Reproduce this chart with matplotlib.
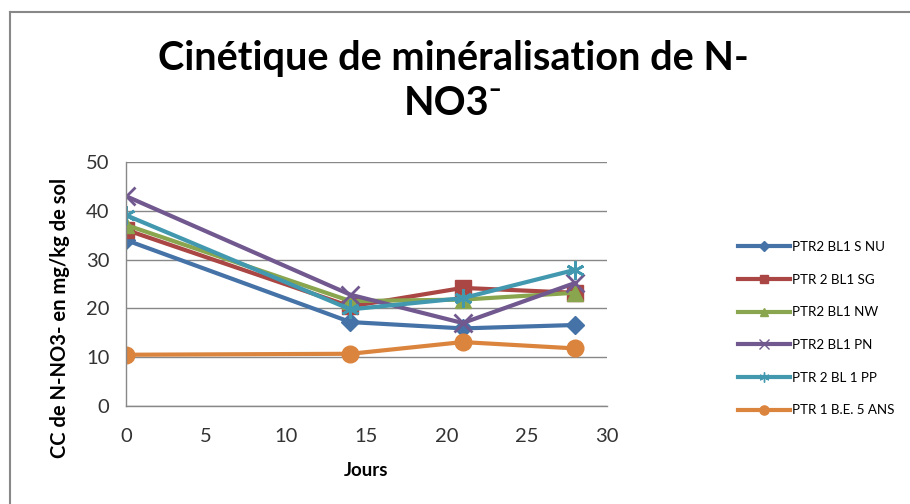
import matplotlib
matplotlib.use("Agg")
import matplotlib.pyplot as plt
from matplotlib.lines import Line2D

# sampling days and N-NO3 concentrations (mg/kg soil)
jours = [0, 14, 21, 28]
series_names = ["PTR2 BL1 S NU", "PTR 2 BL1 SG", "PTR2 BL1 NW",
                "PTR2 BL1 PN", "PTR 2 BL 1 PP", "PTR 1 B.E. 5 ANS"]
s_nu = [34.0, 17.2, 15.9, 16.6]
sg = [36.1, 20.4, 24.2, 23.2]
nw = [37.1, 21.5, 21.8, 23.2]
pn = [43.0, 22.8, 17.0, 25.2]
pp = [39.1, 19.8, 22.1, 27.9]
be5 = [10.5, 10.7, 13.1, 11.8]
xticks = [0, 5, 10, 15, 20, 25, 30]
yticks = [0, 10, 20, 30, 40, 50]

colors = ["#4572A7", "#AA4643", "#89A54E", "#71588F", "#4198AF", "#DB843D"]
markers = ["D", "s", "^", "x", (6, 2, 0), "o"]
msizes = [9, 11, 11, 13, 13, 12]

plt.rcParams["font.family"] = ["Lato", "DejaVu Sans"]
fig = plt.figure(figsize=(9.1, 5.04), dpi=100)
ax = fig.add_axes([126 / 910, 98 / 504, 481 / 910, 244 / 504])

for vals, name, c, m, ms in zip([s_nu, sg, nw, pn, pp, be5], series_names,
                                colors, markers, msizes):
    thin = m in ("x", (6, 2, 0))
    ax.plot(jours, vals, color=c, lw=3, marker=m, ms=ms, mew=2 if thin else 1,
            label=name)

ax.set_xlim(0, 30)
ax.set_ylim(0, 50)
ax.set_xticks(xticks)
ax.set_yticks(yticks)
ax.tick_params(length=0, labelsize=14.5, colors="#333333")
ax.tick_params(axis="x", pad=16)
ax.tick_params(axis="y", pad=12)
ax.yaxis.grid(True, color="#888888", lw=1)
ax.set_axisbelow(True)
for sp in ("top", "right"):
    ax.spines[sp].set_visible(False)
for sp in ("left", "bottom"):
    ax.spines[sp].set_color("#888888")
    ax.spines[sp].set_linewidth(1)
ax.set_xlabel("Jours", fontsize=13.5, fontweight="bold", labelpad=12)
ax.set_ylabel("CC de N-NO3- en mg/kg de sol", fontsize=14.5, fontweight="bold")
ax.yaxis.set_label_coords(-0.117, 0.36)

# two-line title as in the original (text wrapped after "N-")
fig.text(0.498, 1 - 70 / 504, "Cinétique de minéralisation de N-", ha="center", va="baseline",
         fontsize=28.5, fontweight="bold")
fig.text(0.498, 1 - 115 / 504, "NO3⁻", ha="center", va="baseline",
         fontsize=28.5, fontweight="bold")

handles = [Line2D([], [], color=c, lw=3, marker=m, ms=ms * 0.55) for c, m, ms in zip(colors, markers, msizes)]
leg = fig.legend(handles, series_names, loc="upper left", bbox_to_anchor=(726 / 910, 1 - 229 / 504),
                 frameon=False, fontsize=9.6, handlelength=3.9, handletextpad=0.15,
                 labelspacing=1.55)

# outer chart border (top and left only visible)
fig.add_artist(Line2D([10 / 910, 10 / 910], [0, 1 - 12 / 504], color="#888888", lw=1.5,
                      transform=fig.transFigure))
fig.add_artist(Line2D([10 / 910, 1], [1 - 12 / 504, 1 - 12 / 504], color="#888888", lw=1.5,
                      transform=fig.transFigure))

fig.savefig("out.png", dpi=100)
